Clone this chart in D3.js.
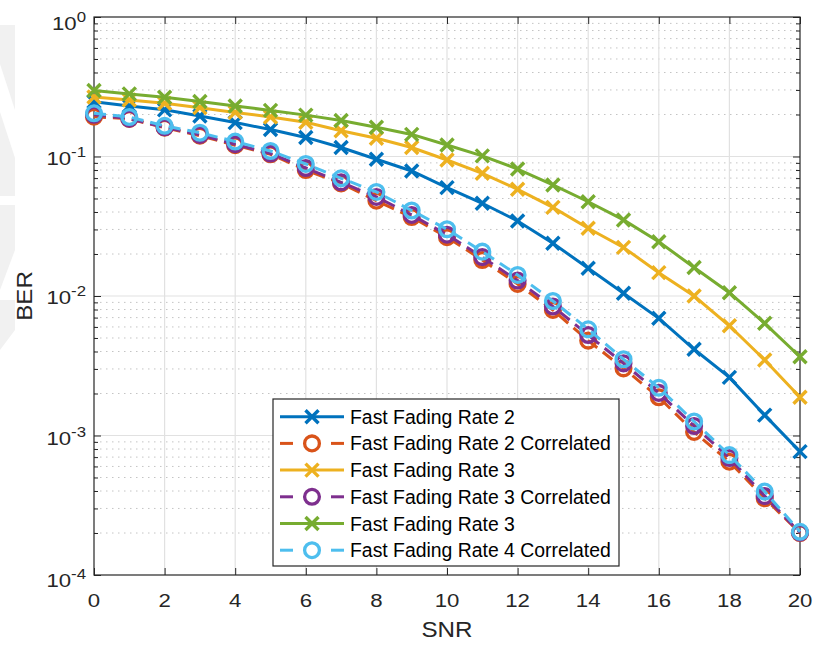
<!DOCTYPE html>
<html>
<head>
<meta charset="utf-8">
<script src="https://cdn.jsdelivr.net/npm/d3@7"></script>
<style>
  html, body { margin: 0; padding: 0; background: #fff; }
  svg { display: block; font-family: "Liberation Sans", Arial, Helvetica, sans-serif; }
</style>
</head>
<body>
<svg id="chart" width="817" height="647"></svg>
<script>
// SNR points (dB)
const snr = [0, 1, 2, 3, 4, 5, 6, 7, 8, 9, 10, 11, 12, 13, 14, 15, 16, 17, 18, 19, 20];

// BER curves
const berRate2 = [0.247, 0.230, 0.216, 0.195, 0.175, 0.156, 0.137, 0.116, 0.0955, 0.0787, 0.0598,
  0.0462, 0.0345, 0.0239, 0.0158, 0.01046, 0.00692, 0.00415, 0.00261, 0.00140, 0.000766];
const berRate2Corr = [0.193, 0.186, 0.161, 0.141, 0.1205, 0.1037, 0.0800, 0.0642, 0.0482, 0.0368, 0.0264,
  0.0181, 0.0122, 0.00794, 0.00479, 0.00303, 0.00188, 0.00106, 0.000649, 0.000355, 0.000200];
const berRate3 = [0.267, 0.254, 0.241, 0.224, 0.207, 0.192, 0.176, 0.153, 0.135, 0.116, 0.0944,
  0.0758, 0.0582, 0.0432, 0.0306, 0.0223, 0.0147, 0.0100, 0.00612, 0.00348, 0.00188];
const berRate3Corr = [0.199, 0.187, 0.162, 0.143, 0.1225, 0.105, 0.0827, 0.0653, 0.0513, 0.0381, 0.0275,
  0.0190, 0.0129, 0.00841, 0.00525, 0.00329, 0.00202, 0.00117, 0.000690, 0.000368, 0.000201];
const berRate3b = [0.297, 0.281, 0.266, 0.248, 0.230, 0.214, 0.198, 0.181, 0.162, 0.144, 0.121,
  0.101, 0.0813, 0.0625, 0.0474, 0.0351, 0.0245, 0.0160, 0.01056, 0.00637, 0.00367];
const berRate4Corr = [0.204, 0.192, 0.166, 0.148, 0.128, 0.1095, 0.0884, 0.0698, 0.0557, 0.0410, 0.0301,
  0.0208, 0.01415, 0.00921, 0.00577, 0.00352, 0.00220, 0.00126, 0.000724, 0.000396, 0.000204];

const seriesLabels = [
  "Fast Fading Rate 2",
  "Fast Fading Rate 2 Correlated",
  "Fast Fading Rate 3",
  "Fast Fading Rate 3 Correlated",
  "Fast Fading Rate 3",
  "Fast Fading Rate 4 Correlated"
];
const seriesValues = [berRate2, berRate2Corr, berRate3, berRate3Corr, berRate3b, berRate4Corr];
const seriesColors = ["#0072BD", "#D95319", "#EDB120", "#7E2F8E", "#77AC30", "#4DBEEE"];
const seriesMarkers = ["x", "o", "x", "o", "x", "o"];
const seriesDashed = [false, true, false, true, false, true];

// axis ticks
const xTicks = [0, 2, 4, 6, 8, 10, 12, 14, 16, 18, 20];
const yExponents = [0, -1, -2, -3, -4];

const svg = d3.select("#chart");
const plotL = 94, plotR = 800, plotT = 17, plotB = 575;
const axisColor = "#262626";
const glyphStretch = 1.2;   // tick labels use a wide Helvetica-like face

const x = d3.scaleLinear().domain([0, 20]).range([plotL, plotR]);
const y = d3.scaleLog().domain([1e-4, 1]).range([plotB, plotT]);

// faint background logo at the left edge
const wm = svg.append("g").attr("fill", "#f1f1f1");
wm.append("polygon").attr("points", "0,25 15,25 15,110 0,64");
wm.append("polygon").attr("points", "0,112 15,158 15,196 0,196");
wm.append("polygon").attr("points", "0,205 15,205 15,250 0,290");
wm.append("polygon").attr("points", "0,300 15,300 15,330 0,350");

// grid
const grid = svg.append("g");
const minorVals = [];
for (let e = -4; e < 0; e++) {
  for (let m = 2; m <= 9; m++) minorVals.push(m * Math.pow(10, e));
}
grid.selectAll("line.minor").data(minorVals).join("line")
  .attr("x1", plotL).attr("x2", plotR)
  .attr("y1", d => y(d)).attr("y2", d => y(d))
  .attr("stroke", "#c4c4c4").attr("stroke-width", 1)
  .attr("stroke-dasharray", "1.5,4.5");
grid.selectAll("line.majy").data(yExponents.slice(1, -1)).join("line")
  .attr("x1", plotL).attr("x2", plotR)
  .attr("y1", d => y(Math.pow(10, d))).attr("y2", d => y(Math.pow(10, d)))
  .attr("stroke", "#e1e1e1").attr("stroke-width", 1.2);
grid.selectAll("line.majx").data(xTicks.slice(1, -1)).join("line")
  .attr("x1", d => x(d)).attr("x2", d => x(d))
  .attr("y1", plotT).attr("y2", plotB)
  .attr("stroke", "#e1e1e1").attr("stroke-width", 1.2);

// inward ticks on all four sides
const majorY = yExponents.map(e => Math.pow(10, e));
function tickAxis(axis, tx, ty) {
  const g = svg.append("g").attr("transform", `translate(${tx},${ty})`).call(axis);
  g.select(".domain").remove();
  g.selectAll("text").remove();
  g.selectAll("line").attr("stroke", axisColor).attr("stroke-width", 1);
  return g;
}
tickAxis(d3.axisBottom(x).tickValues(xTicks).tickSizeInner(-7).tickSizeOuter(0), 0, plotB);
tickAxis(d3.axisTop(x).tickValues(xTicks).tickSizeInner(-7).tickSizeOuter(0), 0, plotT);
tickAxis(d3.axisLeft(y).tickValues(majorY).tickSizeInner(-7).tickSizeOuter(0), plotL, 0);
tickAxis(d3.axisRight(y).tickValues(majorY).tickSizeInner(-7).tickSizeOuter(0), plotR, 0);
tickAxis(d3.axisLeft(y).tickValues(minorVals).tickSizeInner(-4).tickSizeOuter(0), plotL, 0);
tickAxis(d3.axisRight(y).tickValues(minorVals).tickSizeInner(-4).tickSizeOuter(0), plotR, 0);

// box
svg.append("rect")
  .attr("x", plotL).attr("y", plotT)
  .attr("width", plotR - plotL).attr("height", plotB - plotT)
  .attr("fill", "none").attr("stroke", axisColor).attr("stroke-width", 1.2);

// x tick labels
svg.append("g").selectAll("g").data(xTicks).join("g")
  .attr("transform", d => `translate(${x(d)},606.5) scale(${glyphStretch},1)`)
  .append("text")
  .attr("text-anchor", "middle").attr("font-size", 18.5).attr("fill", axisColor)
  .text(d => d);

// y tick labels with superscript exponents
const yLabelShift = { "0": 12.5, "-1": 8, "-2": 7.5, "-3": 9.5, "-4": 11.5 };
const yl = svg.append("g").selectAll("g").data(yExponents).join("g")
  .attr("transform", d => `translate(86,${y(Math.pow(10, d)) + yLabelShift[d]}) scale(${glyphStretch},1)`)
  .append("text")
  .attr("text-anchor", "end").attr("fill", axisColor).attr("font-size", 18.5);
yl.append("tspan").text("10");
yl.append("tspan").attr("font-size", 14).attr("dy", -8).text(d => d);

// axis titles
svg.append("text")
  .attr("transform", `translate(${(plotL + plotR) / 2},637) scale(1.1,1)`)
  .attr("text-anchor", "middle").attr("font-size", 22).attr("fill", axisColor)
  .text("SNR");
svg.append("text")
  .attr("transform", `translate(31.5,${(plotT + plotB) / 2}) rotate(-90) scale(1.1,1)`)
  .attr("text-anchor", "middle").attr("font-size", 22).attr("fill", axisColor)
  .text("BER");

// markers
function drawMarker(g, type, cx, cy, color) {
  if (type === "x") {
    const s = 6.5;
    g.append("path")
      .attr("d", `M${cx - s},${cy - s}L${cx + s},${cy + s}M${cx - s},${cy + s}L${cx + s},${cy - s}`)
      .attr("stroke", color).attr("stroke-width", 3.4).attr("fill", "none");
  } else {
    g.append("circle").attr("cx", cx).attr("cy", cy).attr("r", 7.4)
      .attr("stroke", color).attr("stroke-width", 3.3).attr("fill", "none");
  }
}

// curves
const line = d3.line().x(d => x(d[0])).y(d => y(d[1]));
seriesValues.forEach((vals, i) => {
  const pts = snr.map((s, k) => [s, vals[k]]);
  const g = svg.append("g");
  g.append("path").attr("d", line(pts))
    .attr("fill", "none").attr("stroke", seriesColors[i]).attr("stroke-width", 3)
    .attr("stroke-dasharray", seriesDashed[i] ? "12,7" : null);
  pts.forEach(p => drawMarker(g, seriesMarkers[i], x(p[0]), y(p[1]), seriesColors[i]));
});

// legend
const lgX = 273, lgY = 399, lgW = 346, lgH = 167, rowH = 26.7, row0 = 416.7;
const lg = svg.append("g");
lg.append("rect").attr("x", lgX).attr("y", lgY).attr("width", lgW).attr("height", lgH)
  .attr("fill", "#fff").attr("stroke", axisColor).attr("stroke-width", 1.2);
seriesLabels.forEach((lab, i) => {
  const cy = row0 + i * rowH;
  const c = seriesColors[i];
  if (seriesDashed[i]) {
    lg.append("line").attr("x1", 280).attr("x2", 293).attr("y1", cy).attr("y2", cy)
      .attr("stroke", c).attr("stroke-width", 3);
    lg.append("line").attr("x1", 331).attr("x2", 344).attr("y1", cy).attr("y2", cy)
      .attr("stroke", c).attr("stroke-width", 3);
  } else {
    lg.append("line").attr("x1", 280).attr("x2", 344).attr("y1", cy).attr("y2", cy)
      .attr("stroke", c).attr("stroke-width", 3);
  }
  drawMarker(lg, seriesMarkers[i], 312, cy, c);
  lg.append("text").attr("x", 350).attr("y", cy + 7).attr("font-size", 19.4)
    .attr("fill", "#000").text(lab);
});
</script>
</body>
</html>
